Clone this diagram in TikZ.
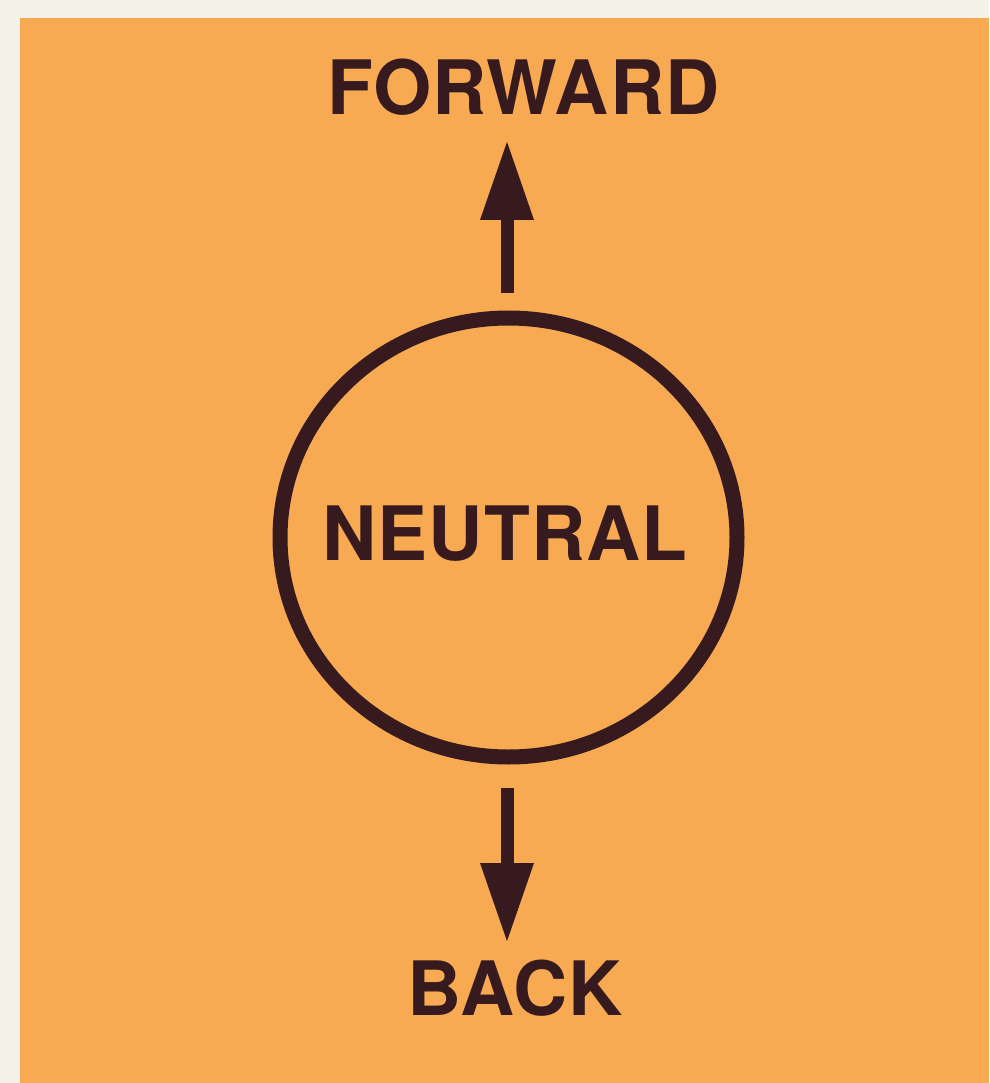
\documentclass[tikz,border=0pt]{standalone}
\usepackage{fontspec}
\setmainfont{TeX Gyre Heros}[LetterSpace=1.5]
\usetikzlibrary{arrows.meta}
\definecolor{paper}{HTML}{F3F1E8}
\definecolor{orangebg}{HTML}{F7AA52}
\definecolor{ink}{HTML}{361A1E}
\tikzset{
  label text/.style={anchor=base, inner sep=0pt, text=ink,
    font=\fontsize{75}{80}\selectfont\bfseries},
  arr/.style={draw=ink, line width=13pt,
    -{Triangle[width=50pt,length=80pt]}, fill=ink},
  ring/.style={draw=ink, line width=15pt}
}
\begin{document}
\begin{tikzpicture}[x=1pt,y=-1pt]
\useasboundingbox (0,0) rectangle (989,1083);
\fill[paper] (0,0) rectangle (989,1083);
\fill[orangebg] (20,18) rectangle (989,1083);
\draw[ring] (508.5,537.5) ellipse [x radius=228.5, y radius=219.5];
\node[label text] (forward) at (523.5,115) {FORWARD};
\node[label text] (neutral) at (505,560) {NEUTRAL};
\node[label text] (back) at (515,1015) {BACK};
\coordinate (upstart) at (507,293);
\coordinate (uptip) at (507,140);
\coordinate (downstart) at (507,788);
\coordinate (downtip) at (507,943);
\draw[arr] (upstart) -- (uptip);
\draw[arr] (downstart) -- (downtip);
\end{tikzpicture}
\end{document}
